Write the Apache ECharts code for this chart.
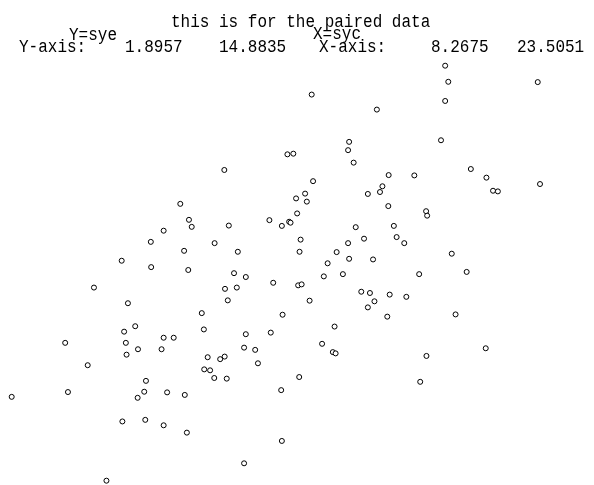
<!DOCTYPE html>
<html>
<head>
<meta charset="utf-8">
<script src="https://cdn.jsdelivr.net/npm/echarts@6/dist/echarts.min.js"></script>
<style>
  html, body { margin: 0; padding: 0; background: #fff; }
  #chart { width: 594px; height: 485px; }
</style>
</head>
<body>
<div id="chart"></div>
<script>
// paired data: X = syc, Y = sye
const syc = [
  14.40, 16.22, 16.39, 20.77, 20.86, 23.44, 16.92, 20.77, 18.80, 18.00,
  17.97, 20.65, 18.13, 21.51, 19.14, 19.88, 21.96, 16.96, 18.96, 18.89,
  18.54, 22.15, 22.29, 23.5051, 16.73, 16.47, 13.13, 16.50, 13.38, 13.46,
  12.65, 14.53, 15.70, 16.06, 16.27, 16.31, 12.28, 14.12, 13.24, 14.79,
  16.60, 16.57, 11.44, 12.29, 13.36, 14.68, 15.02, 15.81, 16.53, 16.63,
  10.64, 14.42, 14.76, 14.50, 11.62, 13.75, 16.08, 11.83, 11.51, 13.81,
  15.02, 15.74, 12.65, 12.94, 16.78, 19.13, 20.22, 20.25, 18.19, 19.29,
  19.37, 18.43, 17.97, 19.59, 17.64, 17.38, 18.00, 18.69, 20.96, 21.39,
  17.27, 17.82, 20.02, 16.86, 18.35, 18.60, 19.17, 19.65, 18.73, 18.54,
  19.10, 21.07, 17.58, 9.81, 11.56, 11.58, 11.91, 12.59, 10.46, 14.97,
  15.29, 15.37, 13.92, 14.28, 14.41, 13.82, 13.99, 14.11, 14.47, 16.56,
  16.04, 12.14, 12.09, 11.90, 12.75, 13.26, 8.2675, 9.89, 11.46, 12.12,
  12.65, 13.32, 16.06, 14.97, 11.00, 17.22, 17.53, 17.61, 20.23, 20.05,
  21.94
]
const sye = [
  11.62, 12.11, 12.13, 14.8835, 14.38, 14.37, 13.98, 13.78, 13.51, 12.50,
  12.24, 12.55, 11.85, 11.65, 11.46, 11.45, 11.38, 11.27, 11.11, 10.93,
  10.87, 10.97, 10.95, 11.18, 10.88, 10.73, 10.56, 10.26, 10.06, 9.84,
  9.72, 9.88, 10.05, 9.87, 10.00, 9.97, 9.37, 9.33, 9.09, 9.06,
  9.44, 9.06, 8.78, 8.58, 8.49, 8.39, 8.27, 8.09, 8.01, 8.04,
  7.94, 7.90, 7.94, 7.54, 7.45, 7.14, 7.09, 6.73, 6.56, 6.63,
  6.48, 6.53, 6.37, 6.37, 10.63, 10.49, 10.33, 10.19, 9.83, 9.87,
  9.52, 9.47, 9.33, 9.33, 9.05, 8.70, 8.84, 8.82, 9.00, 8.43,
  8.29, 8.36, 8.36, 7.53, 7.81, 7.77, 7.72, 7.65, 7.51, 7.32,
  7.03, 7.10, 6.72, 6.21, 6.21, 5.84, 6.01, 6.01, 5.51, 6.06,
  5.99, 5.57, 5.76, 5.70, 5.78, 5.38, 5.35, 5.11, 5.09, 5.14,
  4.73, 5.02, 4.68, 4.49, 4.66, 4.58, 4.52, 4.67, 3.75, 3.80,
  3.63, 3.40, 3.14, 2.44, 1.8957, 6.18, 5.92, 5.88, 5.80, 4.99,
  6.04
]
const yRange = [1.8957, 14.8835]
const xRange = [8.2675, 23.5051]
const titleText = 'this is for the paired data'
const yName = 'Y=sye'
const xName = 'X=syc'

const chart = echarts.init(document.getElementById('chart'))
const font = '16px "Liberation Mono", monospace'

// header texts, placed by hand (glyphs stretched a bit taller like the original)
const label = (text, x, y) => ({
  type: 'text',
  x: x,
  y: y,
  scaleY: 1.15,
  silent: true,
  style: { text: text, font: font, fill: '#000', verticalAlign: 'top' }
})

const option = {
  backgroundColor: '#fff',
  animation: false,
  grid: { left: 11.7, right: 54, top: 65.7, bottom: 4.3 },
  xAxis: { type: 'value', min: xRange[0], max: xRange[1], show: false },
  yAxis: { type: 'value', min: yRange[0], max: yRange[1], show: false },
  graphic: [
    label(titleText, 171, 13),
    label(yName, 69, 26),
    label('Y-axis:', 19, 38),
    label(yRange[0].toFixed(4), 125, 38),
    label(yRange[1].toFixed(4), 219, 38),
    label(xName, 313, 25),
    label('X-axis:', 319, 38),
    label(xRange[0].toFixed(4), 431, 38),
    label(xRange[1].toFixed(4), 517, 38)
  ],
  series: [{
    type: 'scatter',
    clip: false,
    symbol: 'circle',
    symbolSize: 5,
    itemStyle: { color: '#fff', borderColor: '#000', borderWidth: 1, opacity: 1 },
    data: syc.map((x, i) => [x, sye[i]])
  }]
}

chart.setOption(option)
</script>
</body>
</html>
